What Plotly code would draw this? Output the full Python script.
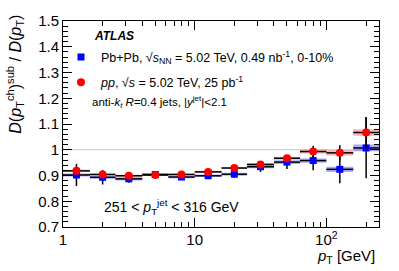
import numpy as np
import plotly.graph_objects as go

# ---- data ----
bin_edges = [1, 1.6, 2.5, 4, 6.3, 10, 16, 25, 40, 63, 100, 160, 251]
pbpb_vals = [0.902, 0.893, 0.887, 0.904, 0.894, 0.899, 0.905, 0.934, 0.952, 0.958, 0.924, 1.007]
pbpb_stat = [0.043, 0.028, 0.015, 0.012, 0.012, 0.012, 0.014, 0.020, 0.027, 0.038, 0.054, 0.118]
pbpb_sys = [0.006, 0.006, 0.006, 0.005, 0.005, 0.005, 0.006, 0.006, 0.007, 0.008, 0.010, 0.013]
pp_vals = [0.918, 0.904, 0.899, 0.902, 0.904, 0.914, 0.929, 0.943, 0.967, 0.993, 0.988, 1.067]
pp_stat = [0.010, 0.006, 0.005, 0.004, 0.004, 0.004, 0.005, 0.006, 0.010, 0.023, 0.029, 0.060]
pp_sys = [0.004, 0.004, 0.004, 0.004, 0.004, 0.004, 0.004, 0.005, 0.006, 0.008, 0.010, 0.0125]

y_ticks = [0.7, 0.8, 0.9, 1.0, 1.1, 1.2, 1.3, 1.4, 1.5]
x_ticks = [1, 10, 100]
x_ticktext = ["1", "10", "10<sup>2</sup>"]

FONT = "Liberation Sans, Arial, sans-serif"

lo = np.array(bin_edges[:-1], dtype=float)
hi = np.array(bin_edges[1:], dtype=float)
centers = np.sqrt(lo * hi)


def band(vals, sys):
    xs, ys = [], []
    for a, b, v, s in zip(lo, hi, vals, sys):
        xs += [a, b, b, a, a, None]
        ys += [v - s, v - s, v + s, v + s, v - s, None]
    return xs, ys


fig = go.Figure()

bx, by = band(pbpb_vals, pbpb_sys)
fig.add_trace(go.Scatter(x=bx, y=by, fill="toself", mode="lines", line=dict(width=0),
                         fillcolor="rgba(40,40,255,0.40)", showlegend=False, hoverinfo="skip"))
bx, by = band(pp_vals, pp_sys)
fig.add_trace(go.Scatter(x=bx, y=by, fill="toself", mode="lines", line=dict(width=0),
                         fillcolor="rgba(255,40,40,0.35)", showlegend=False, hoverinfo="skip"))

fig.add_trace(go.Scatter(
    x=centers, y=pbpb_vals, mode="markers", legendgroup="a",
    marker=dict(symbol="square", size=7, color="#0000ff"),
    error_x=dict(type="data", symmetric=False, array=hi - centers, arrayminus=centers - lo,
                 color="black", thickness=1.5, width=0),
    error_y=dict(type="data", array=pbpb_stat, color="black", thickness=1.5, width=0),
    name="Pb+Pb, √<i>s</i><sub>NN</sub> = 5.02 TeV, 0.49 nb<sup>-1</sup>, 0-10%",
))
fig.add_trace(go.Scatter(
    x=centers, y=pp_vals, mode="markers", legendgroup="b",
    marker=dict(symbol="circle", size=8, color="#ff0000"),
    error_x=dict(type="data", symmetric=False, array=hi - centers, arrayminus=centers - lo,
                 color="black", thickness=1.5, width=0),
    error_y=dict(type="data", array=pp_stat, color="black", thickness=1.5, width=0),
    name="<i>pp</i>, √<i>s</i> = 5.02 TeV, 25 pb<sup>-1</sup>",
))

fig.add_shape(type="line", xref="paper", x0=0, x1=1, yref="y", y0=1, y1=1,
              line=dict(color="#c8c8c8", width=1), layer="below")

minor_x = [m * 10 ** k for k in range(0, 3) for m in range(2, 10) if m * 10 ** k < 251]

fig.update_xaxes(
    type="log", range=[0, np.log10(251)],
    tickmode="array", tickvals=x_ticks, ticktext=x_ticktext,
    ticks="inside", ticklen=9, tickwidth=1, tickcolor="black",
    showline=True, linecolor="black", linewidth=1, mirror="allticks",
    showgrid=False, zeroline=False, ticklabelstandoff=-1,
    minor=dict(tickmode="array", tickvals=minor_x, ticks="inside", ticklen=5,
               tickcolor="black", showgrid=False),
    tickfont=dict(family=FONT, size=15, color="black"),
)
fig.update_yaxes(
    range=[0.7, 1.5], tickmode="array", tickvals=y_ticks,
    ticktext=[("%g" % v) for v in y_ticks],
    ticks="inside", ticklen=9, tickwidth=1, tickcolor="black",
    showline=True, linecolor="black", linewidth=1, mirror="allticks",
    showgrid=False, zeroline=False,
    minor=dict(dtick=0.02, ticks="inside", ticklen=5, tickcolor="black", showgrid=False),
    tickfont=dict(family=FONT, size=15, color="black"),
)

ann = [
    dict(text="<b><i>ATLAS</i></b>", x=92, y=29, size=12),
    dict(text="anti-<i>k</i><sub><i>t</i></sub> <i>R</i>=0.4 jets, |<i>y</i><sup>jet</sup>|&lt;2.1",
         x=90, y=98, size=11.5),
    dict(text="251 &lt; <i>p</i><sub>T</sub><sup>jet</sup> &lt; 316 GeV", x=102, y=206, size=14),
]
W, H = 399, 271
for a in ann:
    fig.add_annotation(text=a["text"], xref="paper", yref="paper",
                       x=(a["x"] - 63) / 316, y=1 - (a["y"] - 14) / 213,
                       xanchor="left", yanchor="middle", showarrow=False,
                       font=dict(family=FONT, size=a["size"], color="black"))

fig.add_annotation(text="<i>p</i><sub>T</sub> [GeV]", xref="paper", yref="paper",
                   x=(377 - 63) / 316, y=1 - (258 - 14) / 213, xanchor="right", yanchor="middle",
                   showarrow=False, font=dict(family=FONT, size=15, color="black"))
fig.add_annotation(text="<i>D</i>(<i>p</i><sub>T</sub><sup>ch</sup>)<sup>sub</sup> / <i>D</i>(<i>p</i><sub>T</sub>)",
                   xref="paper", yref="paper", textangle=-90,
                   x=(15 - 63) / 316, y=1 - (6 - 14) / 213, xanchor="center", yanchor="top",
                   showarrow=False, font=dict(family=FONT, size=16, color="black"))

fig.update_layout(
    width=W, height=H, margin=dict(l=63, r=20, t=14, b=44),
    paper_bgcolor="white", plot_bgcolor="white",
    font=dict(family=FONT, color="black"),
    legend=dict(x=(61 - 63) / 316, y=1 - (36 - 14) / 213, xanchor="left", yanchor="top",
                bgcolor="rgba(0,0,0,0)", font=dict(family=FONT, size=12.5, color="black"),
                tracegroupgap=6, itemwidth=30),
    showlegend=True,
)

fig.write_html("out.html", config={"displayModeBar": False},
               post_script="document.body.style.margin='0';")
